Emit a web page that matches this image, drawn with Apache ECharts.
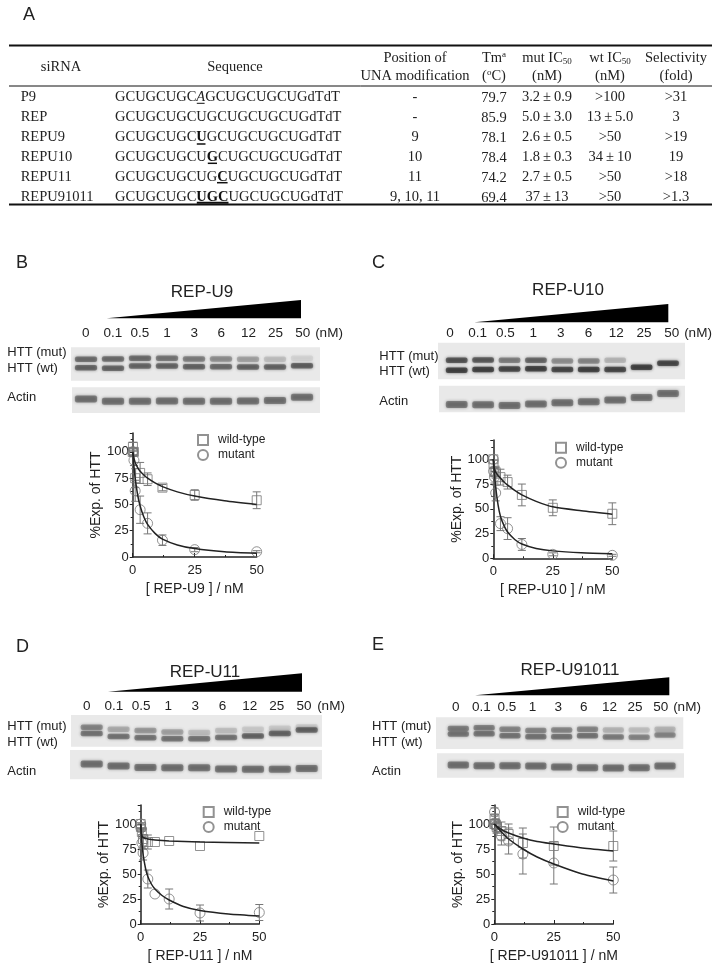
<!DOCTYPE html>
<html>
<head>
<meta charset="utf-8">
<script src="https://cdn.jsdelivr.net/npm/echarts@6/dist/echarts.min.js"></script>
<style>
html, body { margin: 0; padding: 0; background: #fff; }
#chart { width: 721px; height: 968px; filter: blur(0.35px); }
</style>
</head>
<body>
<div id="chart"></div>
<script>
// concentrations on the x axis and on the blots
const doses = [0, 0.1, 0.5, 1, 3, 6, 12, 25, 50];

// panel B, REP-U9
const bWild = [100, 105, 100, 75, 80, 74, 66, 59, 54];
const bWildErr = [0, 4, 3, 9, 10, 6, 3, 5, 8];
const bMut = [100, 100, 92, 63, 45, 32, 16, 7, 5];
const bMutErr = [0, 3, 5, 10, 13, 10, 5, 2, 1];
const bWildCurve = [[0, 100], [0.25, 97], [0.5, 94], [1, 90], [2, 85], [3, 81.5], [4.5, 78], [6, 75], [9, 70.5], [12, 67], [18, 62], [25, 58], [37, 53.5], [50, 50]];
const bMutCurve = [[0, 100], [0.25, 93], [0.5, 86], [1, 75], [2, 59], [3, 48.5], [4.5, 38], [6, 31], [9, 22.5], [12, 17], [18, 11.5], [25, 8], [37, 5], [50, 3.5]];

// panel C, REP-U10
const cWild = [100, 95, 87, 87, 82, 77, 64, 51, 45];
const cWildErr = [0, 4, 4, 6, 8, 7, 11, 8, 11];
const cMut = [100, 88, 82, 66, 35, 30, 14, 4, 3];
const cMutErr = [0, 4, 6, 8, 7, 11, 6, 1.5, 1];
const cWildCurve = [[0, 100], [0.15, 95], [0.4, 91], [1, 87], [2, 83.5], [3, 81], [4.5, 77], [6, 74], [9, 68.5], [12, 64], [18, 57.5], [25, 52], [37, 48], [50, 44.5]];
const cMutCurve = [[0, 100], [0.15, 95], [0.4, 87], [1, 72], [2, 54], [3, 42.5], [4.5, 33], [6, 26.5], [9, 19], [12, 14.5], [18, 10], [25, 7.5], [37, 5.5], [50, 4.5]];

// panel D, REP-U11
const dWild = [100, 97, 92, 85, 82, 82, 83, 78, 88];
const dWildErr = [0, 3, 3, 10, 7, 0, 0, 0, 0];
const dMut = [100, 96, 81, 71, 45, 30, 25, 11, 11.5];
const dMutErr = [0, 3, 5, 7, 9, 0, 10, 8, 8];
const dWildCurve = [[0, 100], [0.1, 96], [0.25, 91.5], [0.6, 88], [1, 86.5], [3, 85], [6, 84], [12, 83], [25, 82], [50, 81]];
const dMutCurve = [[0, 100], [0.15, 94], [0.4, 84], [1, 70], [2, 56], [3, 47.5], [4.5, 40], [6, 35], [9, 28.5], [12, 24], [18, 17.5], [25, 13.5], [37, 10], [50, 8]];

// panel E, REP-U91011
const eWild = [100, 105, 100, 97, 93, 90, 81, 78, 78];
const eWildErr = [0, 5, 5, 6, 9, 10, 15, 19, 15];
const eMut = [100, 112, 100, 97, 88, 83, 70, 61, 44];
const eMutErr = [0, 4, 5, 6, 9, 13, 20, 21, 13];
const eWildCurve = [[0, 100], [3, 94.5], [6, 91], [12, 86], [18, 82.5], [25, 80], [37, 76], [50, 73]];
const eMutCurve = [[0, 100], [3, 92], [6, 85], [12, 75], [18, 67], [25, 60], [37, 50], [50, 43]];

// blots: band height in % of the strip and how dark the band is (0-1)
const bMutY = [36, 35, 33, 33, 35, 35, 36, 36, 33];
const bMutDark = [0.65, 0.65, 0.65, 0.6, 0.55, 0.45, 0.35, 0.2, 0.1];
const bWtY = [61, 63, 56, 56, 58, 58, 59, 59, 55];
const bWtDark = [0.7, 0.7, 0.7, 0.7, 0.7, 0.65, 0.7, 0.7, 0.75];
const bActinY = [46, 54, 54, 53, 54, 54, 53, 51, 39];

const cMutY = [48, 47, 48, 48, 50, 50, 48, 48, 48];
const cMutDark = [0.85, 0.8, 0.55, 0.7, 0.45, 0.5, 0.25, 0, 0];
const cWtY = [75, 73, 72, 71, 73, 73, 73, 67, 56];
const cWtDark = [1, 1, 0.95, 1, 0.95, 1, 0.95, 1, 0.95];
const cActinY = [71, 72, 74, 69, 64, 60, 54, 44, 29];

const dMutY = [39, 45, 49, 54, 55, 49, 45, 42, 37];
const dMutDark = [0.5, 0.3, 0.4, 0.35, 0.2, 0.2, 0.15, 0.15, 0.12];
const dWtY = [58, 68, 72, 75, 75, 71, 66, 58, 47];
const dWtDark = [0.6, 0.6, 0.6, 0.6, 0.6, 0.6, 0.7, 0.7, 0.7];
const dActinY = [48, 55, 60, 61, 61, 65, 66, 66, 63];

const eMutY = [35, 33, 38, 42, 40, 38, 40, 40, 38];
const eMutDark = [0.55, 0.55, 0.5, 0.5, 0.5, 0.5, 0.25, 0.2, 0.25];
const eWtY = [53, 52, 58, 61, 61, 58, 62, 63, 56];
const eWtDark = [0.6, 0.6, 0.6, 0.6, 0.6, 0.6, 0.55, 0.5, 0.5];
const eActinY = [48, 51, 51, 52, 56, 59, 60, 59, 52];

// table
const tableNames = ["P9", "REP", "REPU9", "REPU10", "REPU11", "REPU91011"];
const tableSeq = [
    "{r|GCUGCUGC}{i|A}{r|GCUGCUGCUGdTdT}",
    "{r|GCUGCUGCUGCUGCUGCUGdTdT}",
    "{r|GCUGCUGC}{b|U}{r|GCUGCUGCUGdTdT}",
    "{r|GCUGCUGCU}{b|G}{r|CUGCUGCUGdTdT}",
    "{r|GCUGCUGCUG}{b|C}{r|UGCUGCUGdTdT}",
    "{r|GCUGCUGC}{b|UGC}{r|UGCUGCUGdTdT}",
];
const tablePos = ["-", "-", "9", "10", "11", "9, 10, 11"];
const tableTm = ["79.7", "85.9", "78.1", "78.4", "74.2", "69.4"];
const tableMut = ["3.2\u2009±\u20090.9", "5.0\u2009±\u20093.0", "2.6\u2009±\u20090.5", "1.8\u2009±\u20090.3", "2.7\u2009±\u20090.5", "37\u2009±\u200913"];
const tableWt = [">100", "13\u2009±\u20095.0", ">50", "34\u2009±\u200910", ">50", ">50"];
const tableSel = [">31", "3", ">19", "19", ">18", ">1.3"];

const font = "Liberation Sans";
const serif = "Liberation Serif";
const grid = [];
const xAxis = [];
const yAxis = [];
const series = [];
const legend = [];
const graphic = [];

const addText = (text, x, y, size, align, family, extra) => {
    graphic.push({
        type: "text",
        x: x,
        y: y,
        style: Object.assign({
            text: text,
            fontSize: size,
            fontFamily: family || font,
            fill: "#222",
            align: align || "left",
            verticalAlign: "middle",
        }, extra || {}),
    });
};
const addRule = (x1, x2, y, width) => {
    graphic.push({
        type: "line",
        shape: { x1: x1, y1: y, x2: x2, y2: y },
        style: { stroke: "#111", lineWidth: width },
    });
};

const renderBand = (params, api) => {
    const p = api.coord([api.value(0), api.value(1)]);
    const w = api.size([1, 0])[0] * 0.82;
    const h = params.seriesName === "actin" ? 7 : 5.5;
    return {
        type: "rect",
        shape: { x: p[0] - w / 2, y: p[1] - h / 2, width: w, height: h, r: 2 },
        style: {
            fill: "#222",
            opacity: api.value(2) * 0.65,
            shadowBlur: 3,
            shadowColor: "#222",
        },
    };
};

const addBlot = (name, box, lanes, bands) => {
    const idx = grid.length;
    graphic.push({
        type: "rect",
        z: -1,
        shape: { x: box.x1, y: box.y1, width: box.x2 - box.x1, height: box.y2 - box.y1 },
        style: { fill: "#e9e9e9" },
    });
    const step = (lanes[1] - lanes[0]) / 8;
    grid.push({ left: lanes[0] - step / 2, width: step * 9, top: box.y1, height: box.y2 - box.y1 });
    xAxis.push({ gridIndex: idx, type: "category", data: doses.map(String), show: false });
    yAxis.push({ gridIndex: idx, type: "value", min: 0, max: 100, inverse: true, show: false });
    bands.forEach((b) => {
        series.push({
            type: "custom",
            name: name,
            xAxisIndex: idx,
            yAxisIndex: idx,
            renderItem: renderBand,
            silent: true,
            encode: { x: 0, y: 1 },
            data: b.y.map((y, i) => [i, y, b.dark[i]]),
        });
    });
};

const addDoseAxis = (x1, x2, y) => {
    const idx = grid.length;
    const step = (x2 - x1) / 8;
    grid.push({ left: x1 - step / 2, width: step * 9, top: y - 8, height: 1 });
    xAxis.push({
        gridIndex: idx,
        type: "category",
        data: doses.map(String),
        axisLine: { show: false },
        axisTick: { show: false },
        axisLabel: { margin: 0, interval: 0, fontSize: 13.5, fontFamily: font, color: "#222" },
    });
    yAxis.push({ gridIndex: idx, type: "value", show: false });
};

const renderErr = (params, api) => {
    const x = api.value(0);
    const lo = api.coord([x, api.value(1)]);
    const hi = api.coord([x, api.value(2)]);
    const cap = 4;
    const style = { stroke: "#777", lineWidth: 1, fill: "none" };
    return {
        type: "group",
        children: [
            { type: "line", shape: { x1: lo[0], y1: lo[1], x2: hi[0], y2: hi[1] }, style: style },
            { type: "line", shape: { x1: lo[0] - cap, y1: lo[1], x2: lo[0] + cap, y2: lo[1] }, style: style },
            { type: "line", shape: { x1: hi[0] - cap, y1: hi[1], x2: hi[0] + cap, y2: hi[1] }, style: style },
        ],
    };
};

const addPlot = (p) => {
    const idx = grid.length;
    grid.push({ left: p.x0, width: p.x50 - p.x0, top: p.top, height: p.y0 - p.top });
    xAxis.push({
        gridIndex: idx,
        type: "value",
        min: 0,
        max: 50,
        interval: 25,
        name: p.xName,
        nameLocation: "middle",
        nameGap: 25,
        nameTextStyle: { fontSize: 14, fontFamily: font, color: "#222" },
        splitLine: { show: false },
        axisLine: { lineStyle: { color: "#222", width: 1.5 } },
        axisTick: { inside: true, length: 4, lineStyle: { color: "#222" } },
        minorTick: { show: true, splitNumber: 2, length: 2, lineStyle: { color: "#222" } },
        axisLabel: { margin: 7, fontSize: 13, fontFamily: font, color: "#222" },
    });
    yAxis.push({
        gridIndex: idx,
        type: "value",
        min: 0,
        max: p.yMax,
        interval: 25,
        name: "%Exp. of HTT",
        nameLocation: "middle",
        nameGap: 24,
        nameTextStyle: { fontSize: 14, fontFamily: font, color: "#222" },
        splitLine: { show: false },
        axisLine: { lineStyle: { color: "#222", width: 1.5 } },
        axisTick: { length: 3, lineStyle: { color: "#222" } },
        minorTick: { show: true, splitNumber: 2, length: 2, lineStyle: { color: "#222" } },
        axisLabel: { margin: 4, fontSize: 13, fontFamily: font, color: "#222", showMaxLabel: false },
    });
    [
        { name: "wild-type", symbol: "rect", size: 9, v: p.wild, e: p.wildErr, curve: p.wildCurve },
        { name: "mutant", symbol: "circle", size: 10, v: p.mut, e: p.mutErr, curve: p.mutCurve },
    ].forEach((s) => {
        series.push({
            type: "custom",
            xAxisIndex: idx,
            yAxisIndex: idx,
            renderItem: renderErr,
            silent: true,
            encode: { x: 0, y: [1, 2] },
            data: doses.map((d, i) => [d, s.v[i] - s.e[i], s.v[i] + s.e[i]]).filter((d, i) => s.e[i] > 0),
        });
        series.push({
            type: "scatter",
            name: s.name,
            xAxisIndex: idx,
            yAxisIndex: idx,
            symbol: s.symbol,
            symbolSize: s.size,
            itemStyle: { color: "transparent", borderColor: "#777", borderWidth: 1 },
            data: doses.map((d, i) => [d, s.v[i]]),
        });
        series.push({
            type: "line",
            xAxisIndex: idx,
            yAxisIndex: idx,
            showSymbol: false,
            smooth: 0.25,
            lineStyle: { color: "#222", width: 1.5 },
            data: s.curve,
        });
    });
    legend.push({
        data: ["wild-type", "mutant"],
        orient: "vertical",
        left: p.legX - 5,
        top: p.legY - 5,
        itemWidth: 10,
        itemHeight: 10,
        itemGap: 3,
        selectedMode: false,
        textStyle: { fontSize: 12, fontFamily: font, color: "#222", padding: [0, 0, 0, 5] },
        padding: 0,
    });
};

const addPanel = (p) => {
    addText(p.letter, p.letterX, p.letterY, 18);
    addText(p.title, p.titleX, p.titleY, 17, "center");
    graphic.push({
        type: "polygon",
        shape: { points: [[p.wedge[0], p.wedge[2]], [p.wedge[1], p.wedge[2]], [p.wedge[1], p.wedge[3]]] },
        style: { fill: "#000" },
    });
    addDoseAxis(p.doseX[0], p.doseX[1], p.doseY);
    addText("(nM)", p.nmX, p.doseY, 13.5, "center");
    addText("HTT (mut)", p.sideX, p.sideY[0], 13);
    addText("HTT (wt)", p.sideX, p.sideY[1], 13);
    addText("Actin", p.sideX, p.sideY[2], 13);
    addBlot("htt", p.httBox, p.lanes, [{ y: p.mutY, dark: p.mutDark }, { y: p.wtY, dark: p.wtDark }]);
    addBlot("actin", p.actinBox, p.lanes, [{ y: p.actinY, dark: doses.map(() => 0.62) }]);
    addPlot(p);
};

addPanel({
    letter: "B", letterX: 16, letterY: 263, title: "REP-U9", titleX: 202, titleY: 292,
    wedge: [106.7, 301, 318.3, 300], doseX: [85.7, 302.7], doseY: 333, nmX: 329,
    sideX: 7.3, sideY: [352.7, 368, 397.7],
    httBox: { x1: 71, x2: 320, y1: 347.3, y2: 380.7 }, actinBox: { x1: 72, x2: 320, y1: 387.3, y2: 413 },
    lanes: [86, 302],
    mutY: bMutY, mutDark: bMutDark, wtY: bWtY, wtDark: bWtDark, actinY: bActinY,
    x0: 132.7, x50: 256.7, y0: 557, top: 433, yMax: 118, xName: "[ REP-U9 ] / nM",
    wild: bWild, wildErr: bWildErr, mut: bMut, mutErr: bMutErr, wildCurve: bWildCurve, mutCurve: bMutCurve,
    legX: 202, legY: 439,
});
addPanel({
    letter: "C", letterX: 372, letterY: 263, title: "REP-U10", titleX: 568, titleY: 290,
    wedge: [474.3, 668.3, 322.3, 304], doseX: [450, 671.7], doseY: 333, nmX: 698,
    sideX: 379.3, sideY: [356, 371.7, 401],
    httBox: { x1: 438, x2: 685, y1: 342.7, y2: 379.3 }, actinBox: { x1: 439, x2: 685, y1: 385.7, y2: 412.3 },
    lanes: [456.7, 668],
    mutY: cMutY, mutDark: cMutDark, wtY: cWtY, wtDark: cWtDark, actinY: cActinY,
    x0: 493.3, x50: 612.3, y0: 558.3, top: 440, yMax: 119.5, xName: "[ REP-U10 ] / nM",
    wild: cWild, wildErr: cWildErr, mut: cMut, mutErr: cMutErr, wildCurve: cWildCurve, mutCurve: cMutCurve,
    legX: 560, legY: 446.7,
});
addPanel({
    letter: "D", letterX: 16, letterY: 647, title: "REP-U11", titleX: 205, titleY: 672,
    wedge: [108, 302, 691.7, 673.3], doseX: [86.7, 304], doseY: 706.7, nmX: 331,
    sideX: 7.3, sideY: [726, 742.3, 771],
    httBox: { x1: 71, x2: 322, y1: 715, y2: 746.7 }, actinBox: { x1: 70, x2: 322, y1: 750, y2: 779.3 },
    lanes: [91.7, 306.7],
    mutY: dMutY, mutDark: dMutDark, wtY: dWtY, wtDark: dWtDark, actinY: dActinY,
    x0: 140.7, x50: 259.3, y0: 924, top: 805, yMax: 119, xName: "[ REP-U11 ] / nM",
    wild: dWild, wildErr: dWildErr, mut: dMut, mutErr: dMutErr, wildCurve: dWildCurve, mutCurve: dMutCurve,
    legX: 207.7, legY: 811,
});
addPanel({
    letter: "E", letterX: 372, letterY: 645, title: "REP-U91011", titleX: 570, titleY: 670,
    wedge: [475, 669.3, 695.3, 677.3], doseX: [455.7, 660.7], doseY: 707, nmX: 687,
    sideX: 372, sideY: [726, 742.3, 771],
    httBox: { x1: 436, x2: 683.3, y1: 717.3, y2: 749 }, actinBox: { x1: 437, x2: 684, y1: 753.3, y2: 777.7 },
    lanes: [458.3, 665],
    mutY: eMutY, mutDark: eMutDark, wtY: eWtY, wtDark: eWtDark, actinY: eActinY,
    x0: 494.3, x50: 613.3, y0: 924, top: 805, yMax: 119, xName: "[ REP-U91011 ] / nM",
    wild: eWild, wildErr: eWildErr, mut: eMut, mutErr: eMutErr, wildCurve: eWildCurve, mutCurve: eMutCurve,
    legX: 561.7, legY: 811,
});

// table A
addText("A", 23, 15, 18);
addRule(9, 712, 45.5, 2);
addRule(9, 712, 86, 1);
addRule(9, 712, 204.5, 2);
const tableSize = 14.5;
const richHead = {
    n: { fontSize: tableSize, fontFamily: serif, fill: "#222" },
    s: { fontSize: 9, fontFamily: serif, fill: "#222", padding: [7, 0, 0, 0] },
    u: { fontSize: 9, fontFamily: serif, fill: "#222", padding: [0, 0, 7, 0] },
};
const richSeq = {
    r: { fontSize: tableSize, fontFamily: serif, fill: "#222" },
    i: { fontSize: tableSize, fontFamily: serif, fill: "#222", fontStyle: "italic" },
    b: { fontSize: tableSize, fontFamily: serif, fill: "#111", fontWeight: "bold" },
};
addText("siRNA", 61, 67, tableSize, "center", serif);
addText("Sequence", 235, 67, tableSize, "center", serif);
addText("Position of", 415, 58, tableSize, "center", serif);
addText("UNA modification", 415, 76, tableSize, "center", serif);
addText("{n|Tm}{u|a}", 494, 58, tableSize, "center", serif, { rich: richHead });
addText("{n|(}{u|o}{n|C)}", 494, 76, tableSize, "center", serif, { rich: richHead });
addText("{n|mut IC}{s|50}", 547, 58, tableSize, "center", serif, { rich: richHead });
addText("(nM)", 547, 76, tableSize, "center", serif);
addText("{n|wt IC}{s|50}", 610, 58, tableSize, "center", serif, { rich: richHead });
addText("(nM)", 610, 76, tableSize, "center", serif);
addText("Selectivity", 676, 58, tableSize, "center", serif);
addText("(fold)", 676, 76, tableSize, "center", serif);
tableNames.forEach((name, i) => {
    const y = 97 + i * 20;
    addText(name, 20.7, y, tableSize, "left", serif);
    addText(tableSeq[i], 115, y, tableSize, "left", serif, { rich: richSeq });
    addText(tablePos[i], 415, y, tableSize, "center", serif);
    addText(tableTm[i], 494, y + 1, tableSize, "center", serif);
    addText(tableMut[i], 547, y, tableSize, "center", serif);
    addText(tableWt[i], 610, y, tableSize, "center", serif);
    addText(tableSel[i], 676, y, tableSize, "center", serif);
});
addRule(196.8, 204.6, 103.3, 1);
addRule(196.8, 205.5, 144, 1.5);
addRule(207.8, 217, 163.3, 1.5);
addRule(217, 227.6, 182.7, 1.5);
addRule(196.8, 228.5, 202.7, 2);

const chart = echarts.init(document.getElementById("chart"), null, { renderer: "canvas" });
chart.setOption({
    animation: false,
    backgroundColor: "#fff",
    grid: grid,
    xAxis: xAxis,
    yAxis: yAxis,
    legend: legend,
    series: series,
    graphic: graphic,
});
</script>
</body>
</html>
